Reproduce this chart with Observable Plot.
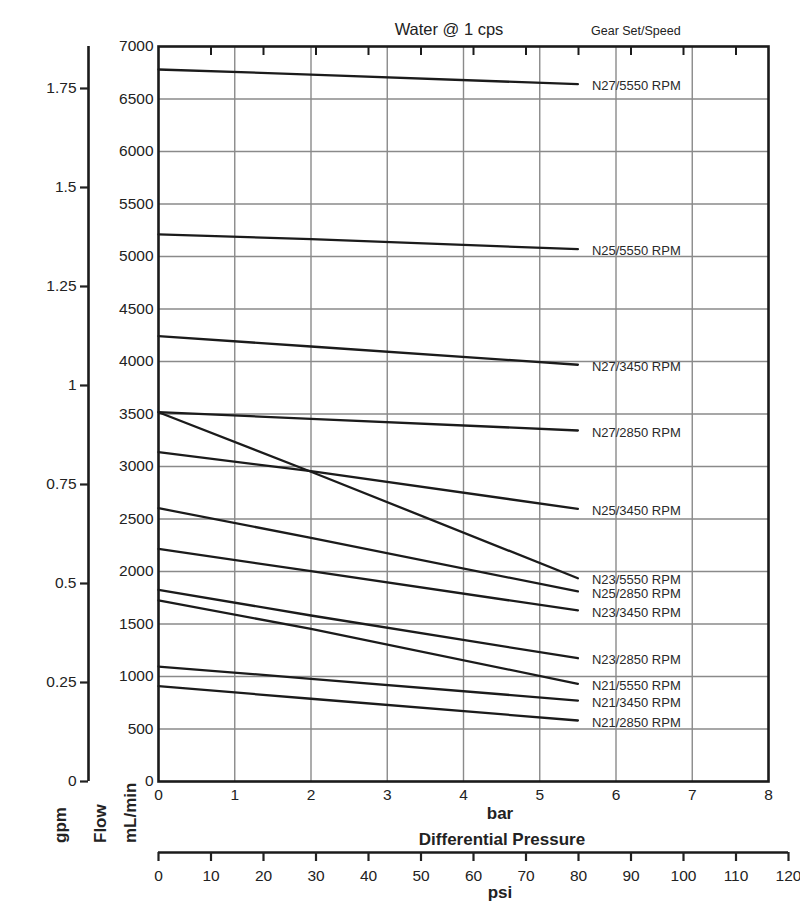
<!DOCTYPE html>
<html>
<head>
<meta charset="utf-8">
<script src="https://cdn.jsdelivr.net/npm/d3@7"></script>
<script src="https://cdn.jsdelivr.net/npm/@observablehq/plot@0.6"></script>
<style>
  body { margin: 0; background: #fff; font-family: "Liberation Sans", Arial, sans-serif; }
  #wrap { position: relative; width: 800px; height: 904px; }
  #wrap svg { position: absolute; left: 0; top: 0; }
</style>
</head>
<body>
<div id="wrap"></div>
<script>
// ---- data ----
const pressureBar = [0, 2, 5.5];               // differential pressure, bar
const seriesNames = [
  "N27/5550 RPM", "N25/5550 RPM", "N27/3450 RPM", "N27/2850 RPM",
  "N25/3450 RPM", "N23/5550 RPM", "N25/2850 RPM", "N23/3450 RPM",
  "N23/2850 RPM", "N21/5550 RPM", "N21/3450 RPM", "N21/2850 RPM"
];
// flow in mL/min at 0, 2 and 5.5 bar
const flowN27_5550 = [6781, 6733, 6641];
const flowN25_5550 = [5210, 5165, 5070];
const flowN27_3450 = [4241, 4143, 3969];
const flowN27_2850 = [3517, 3454, 3343];
const flowN25_3450 = [3136, 2955, 2597];
const flowN23_5550 = [3517, 2950, 1936];
const flowN25_2850 = [2603, 2321, 1810];
const flowN23_3450 = [2216, 2003, 1629];
const flowN23_2850 = [1826, 1581, 1174];
const flowN21_5550 = [1724, 1454, 930];
const flowN21_3450 = [1095, 978, 771];
const flowN21_2850 = [908, 788, 581];
const flowSeries = [
  flowN27_5550, flowN25_5550, flowN27_3450, flowN27_2850,
  flowN25_3450, flowN23_5550, flowN25_2850, flowN23_3450,
  flowN23_2850, flowN21_5550, flowN21_3450, flowN21_2850
];

const flowTicks = d3.range(0, 7001, 500);      // mL/min
const barTicks = d3.range(0, 9);               // bar
const gpmTicks = [0, 0.25, 0.5, 0.75, 1, 1.25, 1.5, 1.75];
const psiTicks = d3.range(0, 121, 10);
const PSI_PER_BAR = 14.5038;

// ---- build tables ----
const rows = [];
seriesNames.forEach((s, i) => {
  flowSeries[i].forEach((f, j) => rows.push({series: s, bar: pressureBar[j], flow: f}));
});
const ends = seriesNames.map((s, i) => ({
  series: s,
  bar: pressureBar[pressureBar.length - 1],
  flow: flowSeries[i][flowSeries[i].length - 1]
}));

// ---- layout ----
const W = 800, H = 904;
const FONT = "'Liberation Sans', Arial, Helvetica, sans-serif";
const INK = "#1b1b1b";
const GRID = "#8a8a8a";
const TICK_FS = 15.5;

const mainTop = 46, mainBottom = 123;

const main = Plot.plot({
  width: W, height: H,
  marginLeft: 158, marginRight: 32, marginTop: mainTop, marginBottom: mainBottom,
  style: {fontFamily: FONT, color: "#222", background: "white", overflow: "visible"},
  x: {domain: [0, 8]},
  y: {domain: [0, 7000]},
  marks: [
    Plot.ruleX(barTicks.filter(d => d > 0 && d < 8), {stroke: GRID, strokeWidth: 1.4}),
    Plot.ruleY(flowTicks.filter(d => d > 0 && d < 7000), {stroke: GRID, strokeWidth: 1.4}),
    Plot.line(rows, {x: "bar", y: "flow", z: "series", stroke: INK, strokeWidth: 2.3}),
    Plot.text(ends, {x: "bar", y: "flow", text: "series", textAnchor: "start", dx: 14, dy: 2,
                     fontSize: 13, fill: "#2a2a2a"}),
    Plot.frame({stroke: INK, strokeWidth: 2.6}),
    Plot.axisY({ticks: flowTicks, tickSize: 0, tickPadding: 5, tickFormat: d3.format("d"),
                fontSize: TICK_FS, label: null}),
    Plot.axisX({ticks: barTicks, tickSize: 0, tickPadding: 7, fontSize: TICK_FS, label: null})
  ]
});

// gpm axis (left)
const gpm = Plot.plot({
  width: W, height: H,
  marginLeft: 88, marginRight: W - 98, marginTop: mainTop, marginBottom: mainBottom,
  style: {fontFamily: FONT, color: "#222", background: "transparent", overflow: "visible"},
  x: {domain: [0, 1], axis: null},
  y: {domain: [0, 1.856]},
  marks: [
    Plot.ruleX([0], {stroke: INK, strokeWidth: 2.6}),
    Plot.axisY({ticks: gpmTicks, tickSize: 8, tickPadding: 4, strokeWidth: 2.2,
                tickFormat: d => String(d), fontSize: TICK_FS, label: null})
  ]
});

// psi axis (bottom) and psi ticks along the top of the frame
const psiTop = mainTop, psiBottom = 52;
const psiInnerH = H - psiTop - psiBottom;
const psi = Plot.plot({
  width: W, height: H,
  marginLeft: 158, marginRight: 12, marginTop: psiTop, marginBottom: psiBottom,
  style: {fontFamily: FONT, color: "#222", background: "transparent", overflow: "visible"},
  x: {domain: [0, 120]},
  y: {domain: [0, 1], axis: null},
  marks: [
    Plot.ruleY([0], {stroke: INK, strokeWidth: 2.6}),
    Plot.ruleX(psiTicks.filter(p => p > 0 && p / PSI_PER_BAR < 8),
               {stroke: INK, strokeWidth: 2, insetBottom: psiInnerH - 9}),
    Plot.axisX({ticks: psiTicks, tickSize: 9, tickPadding: 8, strokeWidth: 2.2,
                fontSize: TICK_FS, label: null})
  ]
});

const wrap = document.getElementById("wrap");
wrap.appendChild(main);
wrap.appendChild(gpm);
wrap.appendChild(psi);

// titles and axis labels
const svg = d3.select(wrap).append("svg")
  .attr("width", W).attr("height", H)
  .style("font-family", FONT).style("overflow", "visible");
const txt = "#222";
svg.append("text").attr("x", 449).attr("y", 35).attr("text-anchor", "middle")
  .attr("font-size", 16.5).attr("fill", txt).text("Water @ 1 cps");
svg.append("text").attr("x", 591).attr("y", 35).attr("text-anchor", "start")
  .attr("font-size", 12.5).attr("fill", txt).text("Gear Set/Speed");
svg.append("text").attr("x", 500).attr("y", 819).attr("text-anchor", "middle")
  .attr("font-size", 17).attr("font-weight", "bold").attr("fill", txt).text("bar");
svg.append("text").attr("x", 502).attr("y", 845).attr("text-anchor", "middle")
  .attr("font-size", 17).attr("font-weight", "bold").attr("fill", txt).text("Differential Pressure");
svg.append("text").attr("x", 500).attr("y", 898).attr("text-anchor", "middle")
  .attr("font-size", 17).attr("font-weight", "bold").attr("fill", txt).text("psi");
[["gpm", 66], ["Flow", 106], ["mL/min", 136]].forEach(([t, x]) => {
  svg.append("text").attr("transform", `translate(${x},843) rotate(-90)`)
    .attr("text-anchor", "start").attr("font-size", 17).attr("font-weight", "bold")
    .attr("fill", txt).text(t);
});
</script>
</body>
</html>
